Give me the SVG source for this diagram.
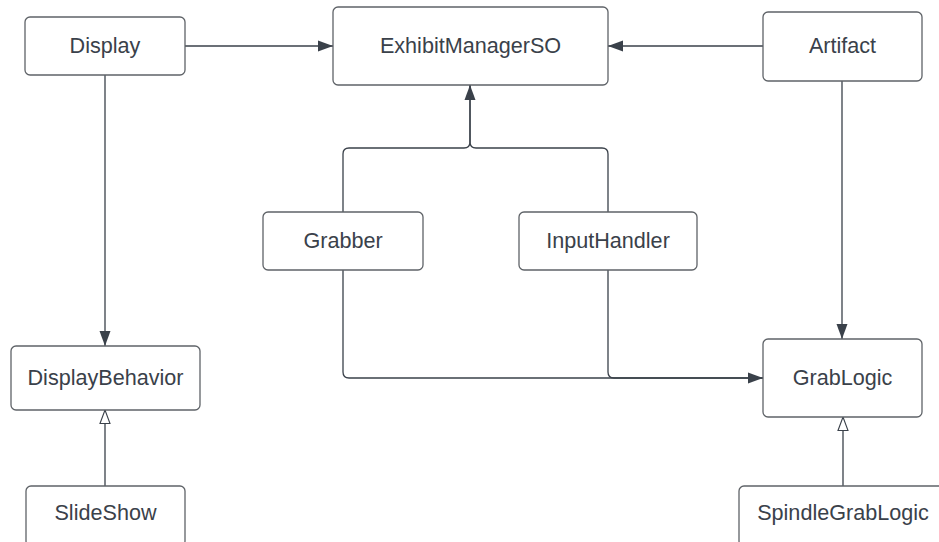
<svg xmlns="http://www.w3.org/2000/svg" width="939" height="542" viewBox="0 0 939 542">
<style>
.box{fill:#fff;stroke:#5f6368;stroke-width:1.3}
.lbl{font-family:"Liberation Sans",Arial,sans-serif;font-size:21.6px;fill:#3a414a;text-anchor:middle}
.ln{fill:none;stroke:#3a414a;stroke-width:1.3}
</style>
<defs>
<marker id="fill" markerWidth="16" markerHeight="12" refX="15" refY="6" orient="auto" markerUnits="userSpaceOnUse">
<path d="M0,0.5 L15,6 L0,11.5 Z" fill="#3a414a"/>
</marker>
<marker id="hollow" markerWidth="15" markerHeight="12" refX="14" refY="6" orient="auto" markerUnits="userSpaceOnUse">
<path d="M0.5,1 L14,6 L0.5,11 Z" fill="#fff" stroke="#3a414a" stroke-width="1.1"/>
</marker>
</defs>
<rect width="939" height="542" fill="#fff"/>
<g id="connectors">
<path class="ln" d="M185 46 H333" marker-end="url(#fill)"/>
<path class="ln" d="M763 46 H608" marker-end="url(#fill)"/>
<path class="ln" d="M343 212 V154 Q343 148 349 148 H464 Q470 148 470 142 V85" marker-end="url(#fill)"/>
<path class="ln" d="M608 212 V154 Q608 148 602 148 H476 Q470 148 470 142 V85"/>
<path class="ln" d="M105 75 V346" marker-end="url(#fill)"/>
<path class="ln" d="M842 81 V339" marker-end="url(#fill)"/>
<path class="ln" d="M343 270 V372 Q343 378 349 378 H763"/>
<path class="ln" d="M608 270 V372 Q608 378 614 378 H763" marker-end="url(#fill)"/>
<path class="ln" d="M105 486 V410" marker-end="url(#hollow)"/>
<path class="ln" d="M843 486 V417" marker-end="url(#hollow)"/>
</g>
<g id="display"><rect class="box" x="25" y="17" width="160" height="58" rx="5"/><text class="lbl" x="105" y="53">Display</text></g>
<g id="exhibitmanagerso"><rect class="box" x="333" y="7" width="275" height="78" rx="5"/><text class="lbl" x="470.5" y="53">ExhibitManagerSO</text></g>
<g id="artifact"><rect class="box" x="763" y="12" width="159" height="69" rx="5"/><text class="lbl" x="842.5" y="53">Artifact</text></g>
<g id="grabber"><rect class="box" x="263" y="212" width="160" height="58" rx="5"/><text class="lbl" x="343" y="248">Grabber</text></g>
<g id="inputhandler"><rect class="box" x="519" y="212" width="178" height="58" rx="5"/><text class="lbl" x="608" y="248">InputHandler</text></g>
<g id="displaybehavior"><rect class="box" x="11" y="346" width="189" height="64" rx="5"/><text class="lbl" x="105.5" y="385">DisplayBehavior</text></g>
<g id="grablogic"><rect class="box" x="763" y="339" width="159" height="78" rx="5"/><text class="lbl" x="842.5" y="385">GrabLogic</text></g>
<g id="slideshow"><rect class="box" x="26" y="486" width="159" height="60" rx="5"/><text class="lbl" x="105.5" y="520">SlideShow</text></g>
<g id="spindlegrablogic"><rect class="box" x="739" y="486" width="208" height="60" rx="5"/><text class="lbl" x="843" y="520">SpindleGrabLogic</text></g>
</svg>
